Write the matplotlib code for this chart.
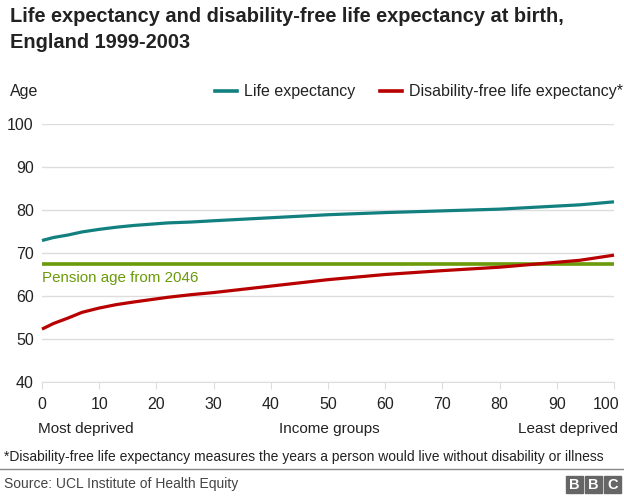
import numpy as np
import matplotlib.pyplot as plt
from matplotlib.patches import Rectangle
from matplotlib.lines import Line2D
from matplotlib.transforms import ScaledTranslation

# ------------------------------
# data

income_group = [0, 2, 4.6, 7, 10, 13, 16, 22, 26, 30, 40, 50, 60, 70, 75, 80, 87, 94, 100]
life_exp = [72.9, 73.6, 74.2, 74.9, 75.5, 76.0, 76.4, 77.0, 77.2, 77.5, 78.2, 78.9, 79.4, 79.8, 80.0, 80.2, 80.7, 81.2, 81.9]
dfle = [52.3, 53.6, 54.9, 56.2, 57.2, 58.0, 58.6, 59.7, 60.3, 60.8, 62.3, 63.8, 65.0, 65.9, 66.3, 66.7, 67.5, 68.3, 69.5]
pension_age = 67.5

teal = '#138080'
red = '#b80000'
green = '#6b9a0a'
grey_text = '#222222'

plt.rcParams['font.family'] = ['Liberation Sans', 'DejaVu Sans']

fig = plt.figure(figsize=(6.24, 4.98), dpi=100)
W, H = 624, 498
ax = fig.add_axes([42 / W, 1 - 382 / H, (614 - 42) / W, (382 - 124) / H])

ax.plot(income_group, life_exp, color=teal, lw=2.3, clip_on=False, solid_capstyle='butt',
        solid_joinstyle='round', zorder=3)
ax.plot(income_group, dfle, color=red, lw=2.3, clip_on=False, solid_capstyle='butt',
        solid_joinstyle='round', zorder=3)
ax.axhline(pension_age, color=green, lw=2.6, zorder=2)
ax.text(0, pension_age - 1.6, 'Pension age from 2046', color=green, fontsize=10.9, va='top', ha='left')

ax.set_xlim(0, 100)
ax.set_ylim(40, 100)
ax.set_yticks(range(40, 101, 10))
ax.set_xticks(range(0, 101, 10))
ax.grid(axis='y', color='#dddddd', lw=1)
ax.set_axisbelow(True)
for s in ax.spines.values():
    s.set_visible(False)
ax.tick_params(axis='y', length=0, pad=6, labelsize=11.5, labelcolor=grey_text)
ax.tick_params(axis='x', length=5, color='#dddddd', pad=6, labelsize=11.5, labelcolor=grey_text)
ax.spines['bottom'].set_visible(True)
ax.spines['bottom'].set_color('#dddddd')
# last x label sits inside the frame like the original
xl = ax.get_xticklabels()
xl[-1].set_horizontalalignment('right')
xl[-1].set_transform(xl[-1].get_transform() + ScaledTranslation(4 / 72, 0, fig.dpi_scale_trans))

# titles
fig.text(10 / W, 1 - 7 / H, 'Life expectancy and disability-free life expectancy at birth,\nEngland 1999-2003',
         fontsize=14.4, fontweight='bold', color=grey_text, va='top', ha='left', linespacing=1.5)
fig.text(10 / W, 1 - 91 / H, 'Age', fontsize=11.5, color=grey_text, va='center')

# legend
fig.add_artist(Line2D([215 / W, 237 / W], [1 - 91 / H] * 2, color=teal, lw=2.6))
fig.text(244 / W, 1 - 91 / H, 'Life expectancy', fontsize=11.5, color=grey_text, va='center')
fig.add_artist(Line2D([380 / W, 402 / W], [1 - 91 / H] * 2, color=red, lw=2.6))
fig.text(409 / W, 1 - 91 / H, 'Disability-free life expectancy*', fontsize=11.5, color=grey_text, va='center')

# x axis labels
fig.text(38 / W, 1 - 429 / H, 'Most deprived', fontsize=11, color=grey_text, va='center')
fig.text(329 / W, 1 - 429 / H, 'Income groups', fontsize=11, color=grey_text, va='center', ha='center')
fig.text(618 / W, 1 - 429 / H, 'Least deprived', fontsize=11, color=grey_text, va='center', ha='right')

# footnote and source
fig.text(4 / W, 1 - 457 / H, '*Disability-free life expectancy measures the years a person would live without disability or illness',
         fontsize=10.0, color=grey_text, va='center')
fig.add_artist(Line2D([0, 1], [1 - 469 / H] * 2, color='#888888', lw=1))
fig.text(4 / W, 1 - 484 / H, 'Source: UCL Institute of Health Equity', fontsize=10.0, color='#444444', va='center')

# BBC blocks
for i, letter in enumerate('BBC'):
    x0 = 566 + i * 19
    fig.add_artist(Rectangle((x0 / W, 1 - 493 / H), 17 / W, 17 / H, color='#666666'))
    fig.text((x0 + 8.5) / W, 1 - 484.5 / H, letter, color='white', fontsize=10.5, fontweight='bold',
             ha='center', va='center')

fig.savefig('out.png', dpi=100)
